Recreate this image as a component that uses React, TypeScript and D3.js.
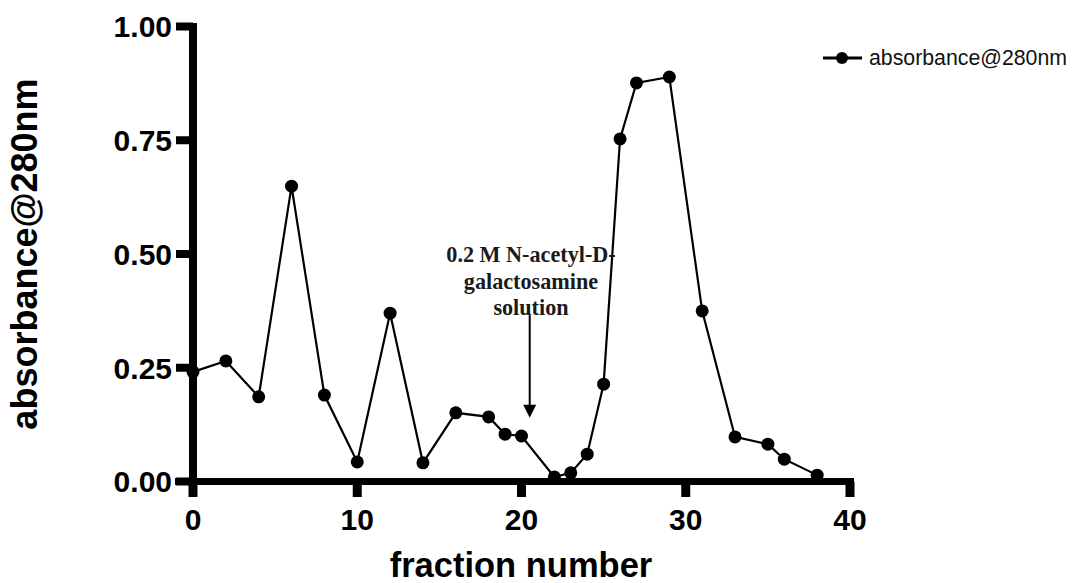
import React from "react";
import * as d3 from "d3";

const fractions = [0, 2, 4, 6, 8, 10, 12, 14, 16, 18, 19, 20, 22, 23, 24, 25, 26, 27, 29, 31, 33, 35, 36, 38];
const absorbance = [0.241, 0.265, 0.186, 0.649, 0.19, 0.043, 0.37, 0.041, 0.151, 0.142, 0.104, 0.1, 0.01, 0.019, 0.06, 0.214, 0.753, 0.876, 0.889, 0.375, 0.098, 0.082, 0.049, 0.014];
const xTicks = [0, 10, 20, 30, 40];
const yTicks = [0, 0.25, 0.5, 0.75, 1.0];
const seriesName = "absorbance@280nm";
const annotationLines = ["0.2 M N-acetyl-D-", "galactosamine", "solution"];
const arrowFraction = 20.5;
const arrowTop = 0.37;
const arrowTip = 0.14;

const W = 1073;
const H = 583;

export default function App() {
  const x = d3.scaleLinear().domain([0, 40]).range([193, 850]);
  const y = d3.scaleLinear().domain([0, 1]).range([481.5, 26.5]);
  const pts = fractions.map((f, i) => [f, absorbance[i]] as [number, number]);
  const line = d3.line<[number, number]>().x((d) => x(d[0])).y((d) => y(d[1]));
  const sans = "'Liberation Sans', Arial, sans-serif";
  const ax = x(arrowFraction);
  const tipY = y(arrowTip);
  return (
    <svg width={W} height={H} style={{ position: "absolute", left: 0, top: 0, background: "#fff" }}>
      <rect x={0} y={0} width={W} height={H} fill="#fff" />
      {/* axes */}
      <line x1={x(0)} x2={x(0)} y1={y(1) - 3.5} y2={497} stroke="#000" strokeWidth={8} />
      <line x1={175} x2={x(40) + 4} y1={y(0)} y2={y(0)} stroke="#000" strokeWidth={7} />
      {yTicks.map((t) => (
        <g key={"y" + t}>
          <line x1={176} x2={x(0)} y1={y(t)} y2={y(t)} stroke="#000" strokeWidth={8} />
          <text x={172} y={y(t)} dy="0.36em" textAnchor="end" fontFamily={sans} fontWeight="bold" fontSize={30}>
            {d3.format(".2f")(t)}
          </text>
        </g>
      ))}
      {xTicks.map((t) => (
        <g key={"x" + t}>
          <line x1={x(t)} x2={x(t)} y1={y(0)} y2={497} stroke="#000" strokeWidth={9} />
          <text x={x(t)} y={530} textAnchor="middle" fontFamily={sans} fontWeight="bold" fontSize={30}>
            {t}
          </text>
        </g>
      ))}
      <text x={521} y={577} textAnchor="middle" fontFamily={sans} fontWeight="bold" fontSize={34.5}>
        fraction number
      </text>
      <text
        transform={`translate(37,254) rotate(-90)`}
        textAnchor="middle"
        fontFamily={sans}
        fontWeight="bold"
        fontSize={36}
      >
        absorbance@280nm
      </text>
      {/* series */}
      <path d={line(pts) || ""} fill="none" stroke="#000" strokeWidth={2.2} />
      {pts.map((d, i) => (
        <circle key={i} cx={x(d[0])} cy={y(d[1])} r={6.5} fill="#000" />
      ))}
      {/* annotation */}
      {annotationLines.map((s, i) => (
        <text
          key={i}
          x={531}
          y={262 + i * 26.5}
          textAnchor="middle"
          fontFamily="'Liberation Serif', 'Times New Roman', serif"
          fontWeight="bold"
          fontSize={22.2}
          fill="#1a1a1a"
        >
          {s}
        </text>
      ))}
      <line x1={ax} x2={ax} y1={y(arrowTop) + 2} y2={tipY - 10} stroke="#000" strokeWidth={2} />
      <path d={`M${ax - 6.5},${tipY - 13} L${ax + 6.5},${tipY - 13} L${ax},${tipY} Z`} fill="#000" />
      {/* legend */}
      <line x1={823} x2={862} y1={58} y2={58} stroke="#000" strokeWidth={3} />
      <circle cx={842} cy={58} r={6} fill="#000" />
      <text x={869} y={65} fontFamily={sans} fontSize={21.3} fill="#111">
        {seriesName}
      </text>
    </svg>
  );
}
